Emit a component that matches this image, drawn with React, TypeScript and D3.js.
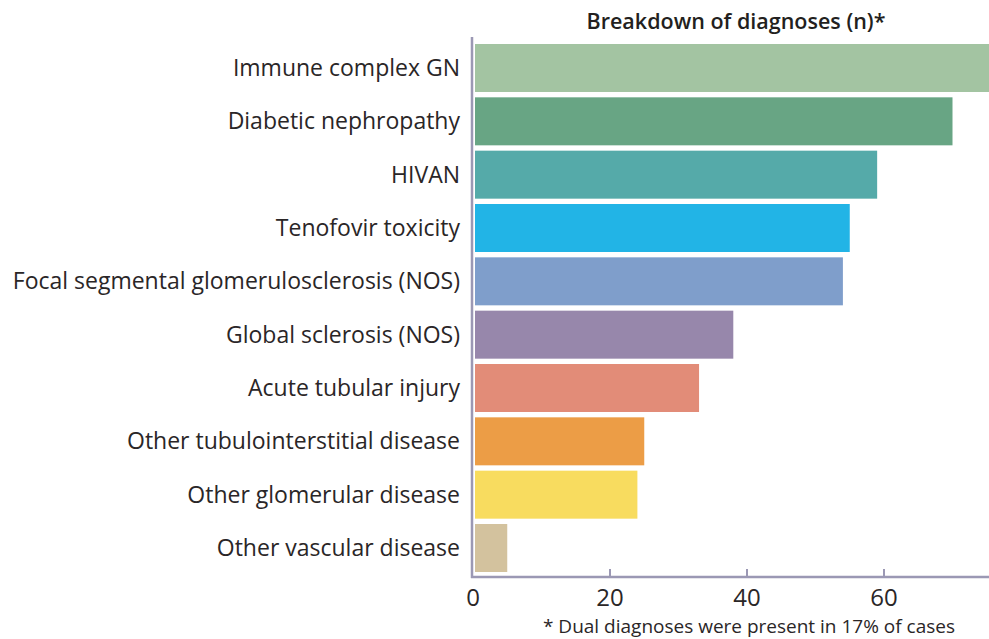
import * as d3 from 'd3';
import { useEffect, useRef } from 'react';

const categories = [
  'Immune complex GN',
  'Diabetic nephropathy',
  'HIVAN',
  'Tenofovir toxicity',
  'Focal segmental glomerulosclerosis (NOS)',
  'Global sclerosis (NOS)',
  'Acute tubular injury',
  'Other tubulointerstitial disease',
  'Other glomerular disease',
  'Other vascular disease',
];
const counts = [77, 70, 59, 55, 54, 38, 33, 25, 24, 5];
const colors = [
  '#a3c4a2',
  '#68a584',
  '#55aaa9',
  '#22b4e6',
  '#7f9ecb',
  '#9787ab',
  '#e28c78',
  '#ec9d46',
  '#f8dc5f',
  '#d3c29e',
];
const ticks = [0, 20, 40, 60];

const App = () => {
  const ref = useRef<SVGSVGElement | null>(null);

  useEffect(() => {
    const width = 989;
    const height = 639;
    const svg = d3.select(ref.current).attr('width', width).attr('height', height);
    svg.selectAll('*').remove();

    const font = "'Open Sans', 'Noto Sans', sans-serif";
    const axisColor = '#9b98b4';
    const baseY = 577;

    const x = d3.scaleLinear().domain([0, 60]).range([473, 884]);
    const y = d3.scaleBand<string>().domain(categories).range([44, 572]).paddingInner(0.1).paddingOuter(0);

    // bars
    svg
      .append('g')
      .selectAll('rect')
      .data(categories)
      .join('rect')
      .attr('x', x(0) + 2)
      .attr('y', (d) => y(d)!)
      .attr('width', (_, i) => x(counts[i]) - x(0) - 2)
      .attr('height', y.bandwidth())
      .attr('fill', (_, i) => colors[i]);

    // category labels
    svg
      .append('g')
      .selectAll('text')
      .data(categories)
      .join('text')
      .attr('x', 460)
      .attr('y', (d) => y(d)! + y.bandwidth() / 2)
      .attr('dy', '0.35em')
      .attr('text-anchor', 'end')
      .attr('font-family', font)
      .attr('font-size', 23)
      .attr('fill', '#2a2627')
      .text((d) => d);

    // axes lines
    svg
      .append('line')
      .attr('x1', 472)
      .attr('x2', 472)
      .attr('y1', 37)
      .attr('y2', baseY + 1)
      .attr('stroke', axisColor)
      .attr('stroke-width', 2.5);
    svg
      .append('line')
      .attr('x1', 471)
      .attr('x2', width)
      .attr('y1', baseY)
      .attr('y2', baseY)
      .attr('stroke', axisColor)
      .attr('stroke-width', 2.5);

    // ticks pointing up
    svg
      .append('g')
      .selectAll('line')
      .data(ticks.filter((t) => t > 0))
      .join('line')
      .attr('x1', (d) => x(d))
      .attr('x2', (d) => x(d))
      .attr('y1', baseY)
      .attr('y2', baseY - 8)
      .attr('stroke', axisColor)
      .attr('stroke-width', 2);

    svg
      .append('g')
      .selectAll('text')
      .data(ticks)
      .join('text')
      .attr('x', (d) => x(d))
      .attr('y', 598)
      .attr('dy', '0.35em')
      .attr('text-anchor', 'middle')
      .attr('font-family', font)
      .attr('font-size', 24)
      .attr('fill', '#2a2627')
      .text((d) => d);

    // title
    svg
      .append('text')
      .attr('x', 736)
      .attr('y', 21)
      .attr('dy', '0.35em')
      .attr('text-anchor', 'middle')
      .attr('font-family', font)
      .attr('font-size', 21.5)
      .attr('font-weight', 600)
      .attr('fill', '#231f20')
      .text('Breakdown of diagnoses (n)*');

    // footnote
    svg
      .append('text')
      .attr('x', 749)
      .attr('y', 626)
      .attr('dy', '0.35em')
      .attr('text-anchor', 'middle')
      .attr('font-family', font)
      .attr('font-size', 19)
      .attr('fill', '#2a2627')
      .text('* Dual diagnoses were present in 17% of cases');
  }, []);

  return (
    <svg
      ref={ref}
      style={{ position: 'absolute', left: 0, top: 0, display: 'block', background: '#fff' }}
    ></svg>
  );
};

export default App;
